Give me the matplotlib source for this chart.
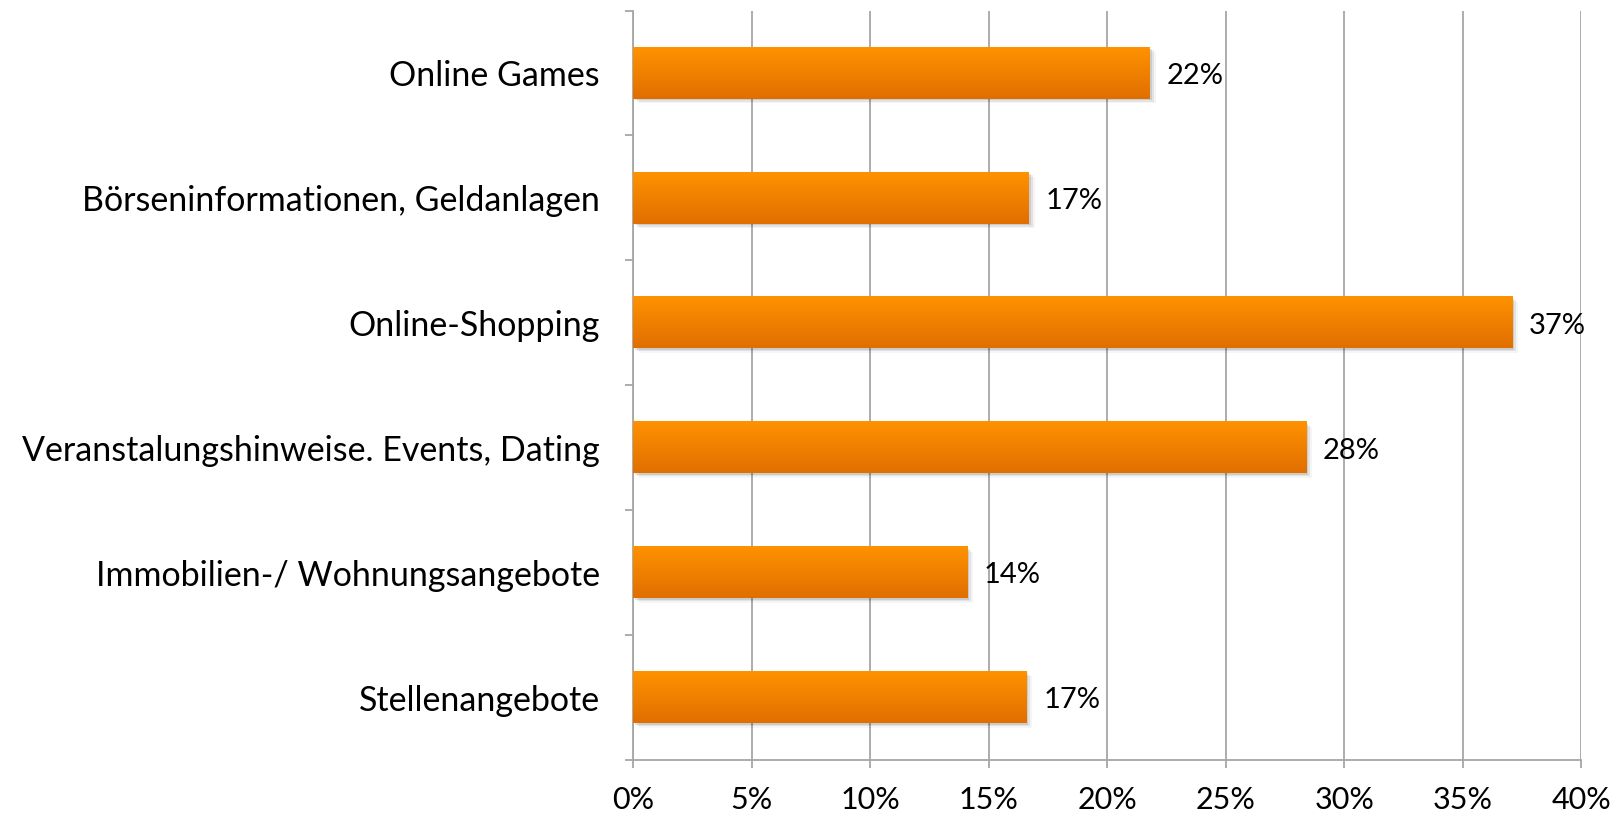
import numpy as np
import matplotlib.pyplot as plt
from matplotlib.colors import LinearSegmentedColormap
from matplotlib.patches import Rectangle

# Nutzung von Online-Angeboten (Anteil der Befragten)
kategorien = [
    "Stellenangebote",
    "Immobilien-/ Wohnungsangebote",
    "Veranstalungshinweise. Events, Dating",
    "Online-Shopping",
    "Börseninformationen, Geldanlagen",
    "Online Games",
]
anteile = [0.166, 0.141, 0.284, 0.371, 0.167, 0.218]
x_ticks = [0, 0.05, 0.10, 0.15, 0.20, 0.25, 0.30, 0.35, 0.40]

plt.rcParams['font.family'] = ['Lato', 'DejaVu Sans']

fig = plt.figure(figsize=(16.21, 8.15), dpi=100)
ax = fig.add_axes([0.3905, 0.0675, 0.585, 0.9195])

pos = np.arange(len(kategorien))
hoehe = 0.41

# Farbverlauf von oben (hell) nach unten (dunkel)
verlauf = LinearSegmentedColormap.from_list("orange", ["#e06f00", "#ff9200"])
grad = np.linspace(0, 1, 100).reshape(-1, 1)

for y, wert in zip(pos, anteile):
    # weicher Schatten rechts unten
    for i, a in enumerate([0.10, 0.07, 0.04]):
        d = 0.012 * (i + 1)
        ax.add_patch(Rectangle((0.0008 * (i + 1), y - hoehe / 2 - d), wert, hoehe,
                               facecolor="black", alpha=a, lw=0, zorder=2))
    ax.imshow(grad, cmap=verlauf, origin="lower", aspect="auto",
              extent=[0, wert, y - hoehe / 2, y + hoehe / 2], zorder=3)
    ax.annotate(f"{wert:.0%}", xy=(wert, y), xytext=(12, -2), textcoords="offset points",
                va="center", ha="left", fontsize=21, color="black", zorder=4)

ax.set_xlim(0, 0.40)
ax.set_ylim(-0.5, len(kategorien) - 0.5)
ax.set_xticks(x_ticks)
ax.set_xticklabels([f"{t:.0%}" for t in x_ticks], fontsize=22)
ax.set_yticks(pos)
ax.set_yticklabels(kategorien, fontsize=24.5, va="center_baseline")
ax.set_yticks(np.arange(len(kategorien) + 1) - 0.5, minor=True)

ax.grid(axis="x", color="#a6a6a6", lw=1.3, zorder=0)
ax.set_axisbelow(True)
ax.tick_params(axis="y", which="major", length=0, pad=24)
ax.tick_params(axis="y", which="minor", length=6, color="#a6a6a6", width=1.3)
ax.tick_params(axis="x", length=6, color="#a6a6a6", width=1.3, pad=13)

for s in ["top", "right"]:
    ax.spines[s].set_visible(False)
for s in ["left", "bottom"]:
    ax.spines[s].set_color("#a6a6a6")
    ax.spines[s].set_linewidth(1.3)

fig.savefig("out.png", dpi=100)
